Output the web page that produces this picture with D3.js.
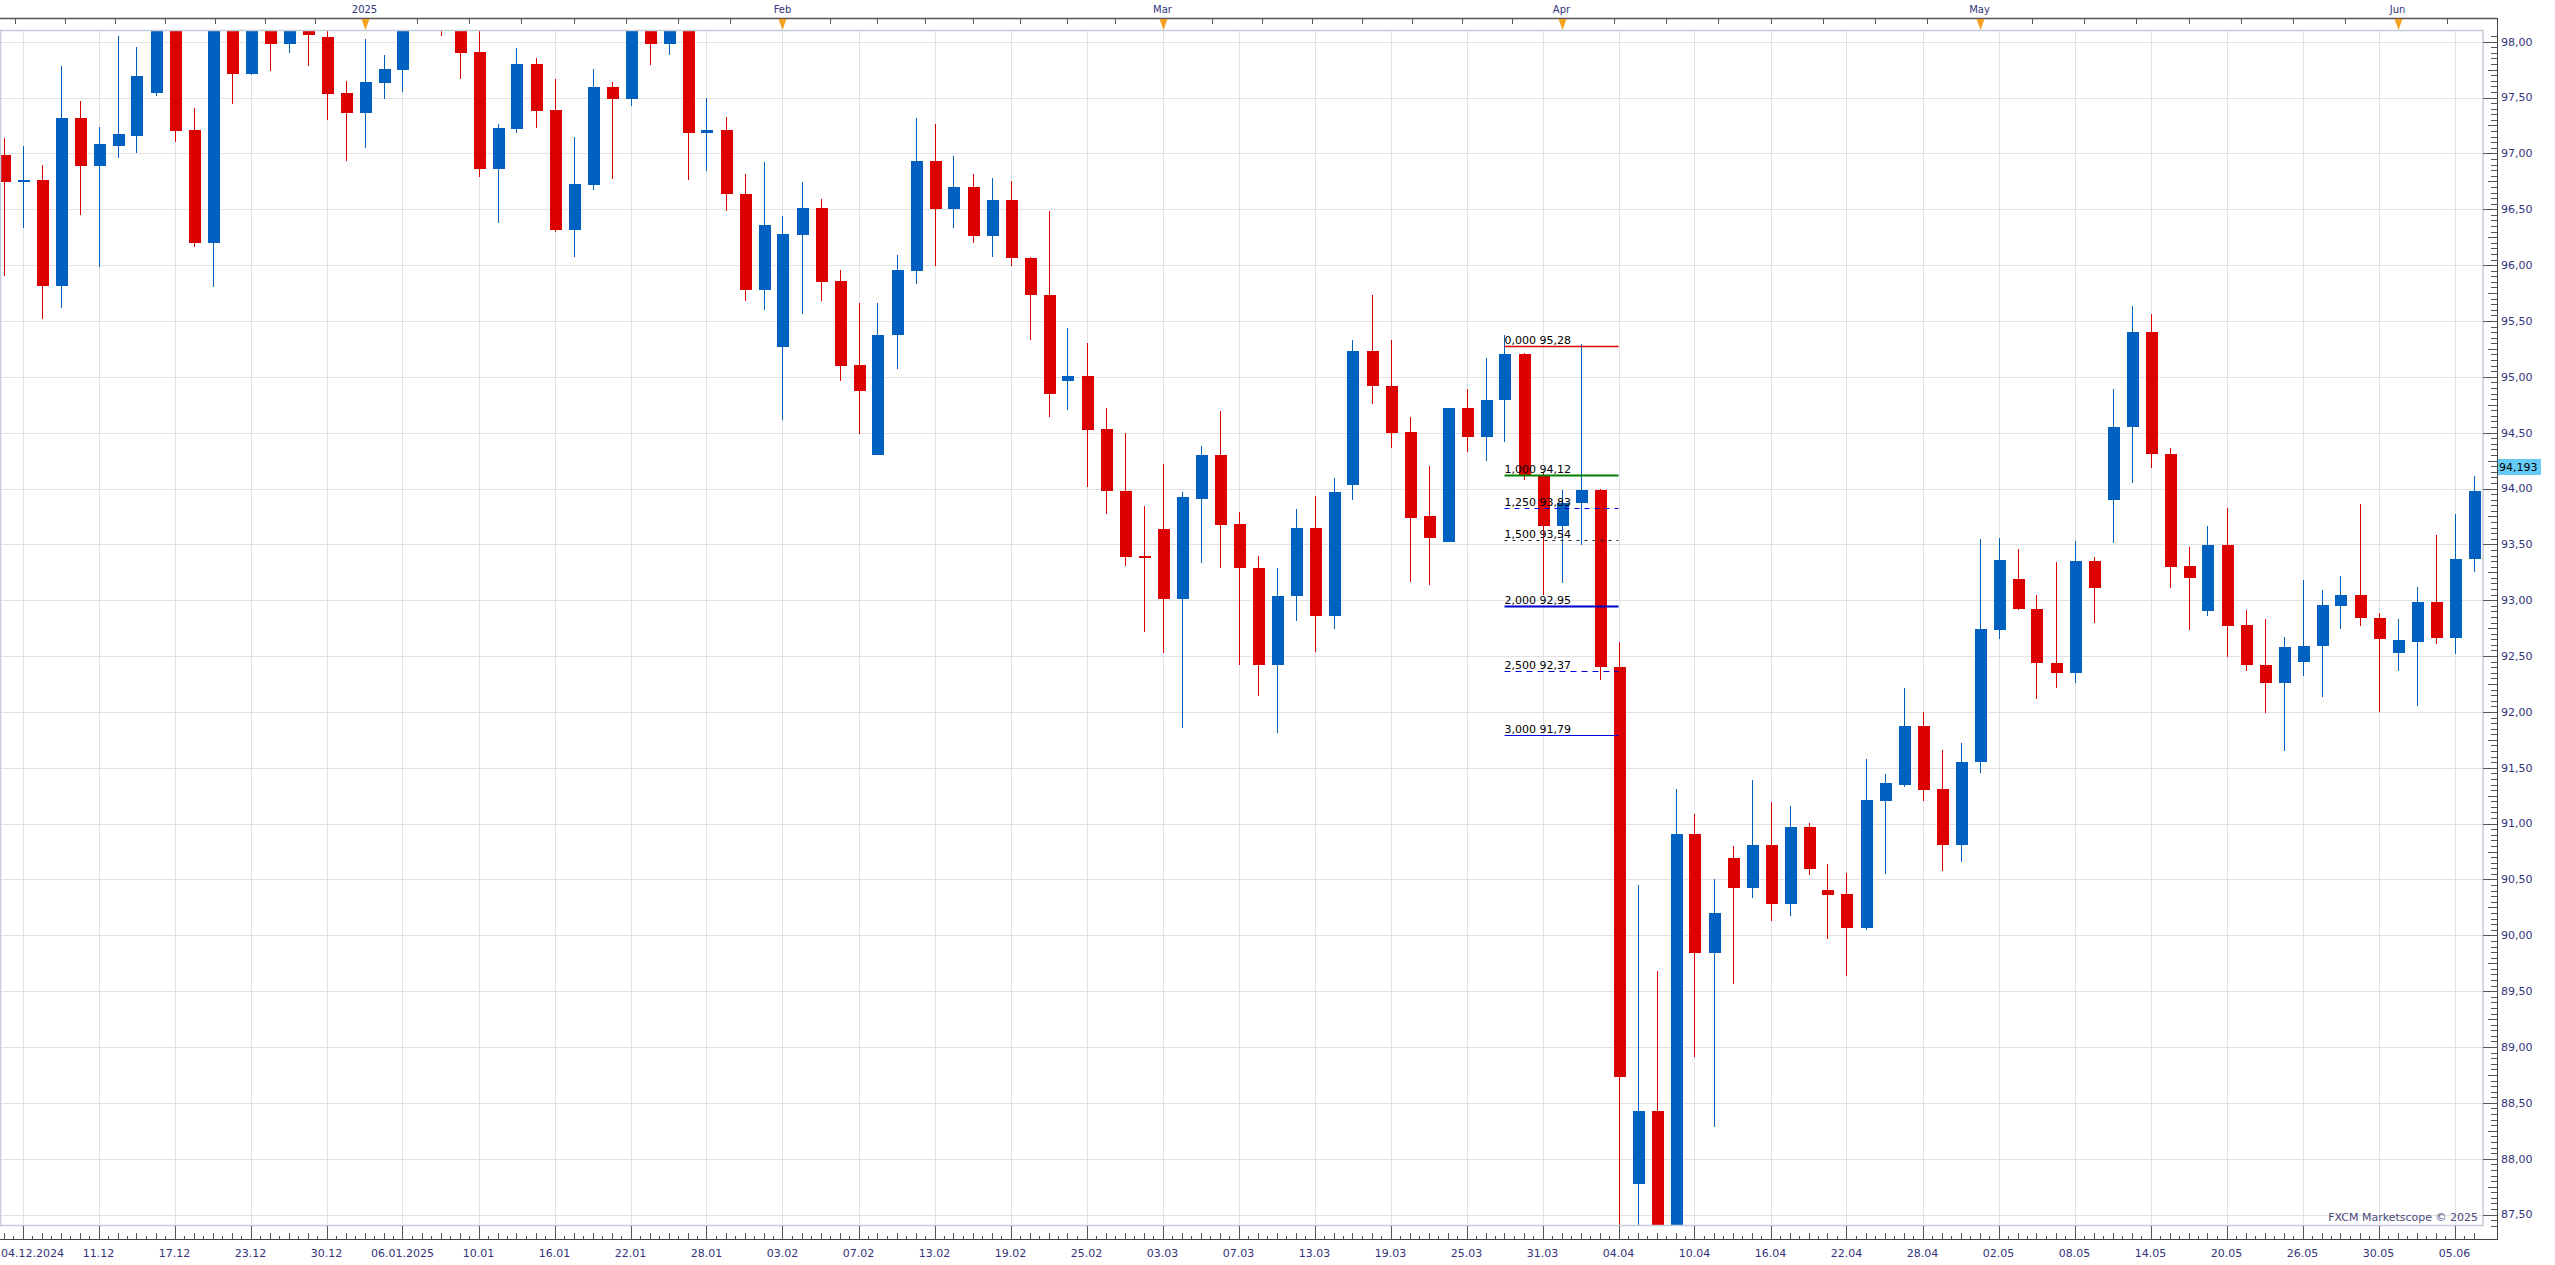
<!DOCTYPE html>
<html>
<head>
<meta charset="utf-8">
<script src="https://cdn.jsdelivr.net/npm/d3@7/dist/d3.min.js"></script>
<style>
html, body { margin: 0; padding: 0; background: #fff; }
svg { display: block; font-family: "DejaVu Sans", sans-serif; }
</style>
</head>
<body>
<svg id="chart" width="2555" height="1265"></svg>
<script>
// daily candles, 04.12.2024 .. 06.06.2025 (index = trading day)
const opens = [
	96.99, 96.74, 96.76, 95.81, 97.32, 96.89, 97.07, 97.16, 97.54, 98.30,
	97.21, 96.20, 98.20, 97.71, 98.15, 97.98, 98.14, 98.04, 97.54, 97.36,
	97.63, 97.75, 98.30, 98.50, 98.30, 97.91, 96.86, 97.22, 97.80, 97.39,
	96.31, 96.72, 97.59, 97.49, 98.20, 97.98, 98.20, 97.18, 97.21, 96.64,
	95.78, 95.27, 96.27, 96.51, 95.86, 95.11, 94.30, 95.37, 95.95, 96.93,
	96.50, 96.70, 96.26, 96.58, 96.06, 95.73, 94.96, 95.01, 94.53, 93.98,
	93.40, 93.64, 93.01, 93.91, 94.30, 93.68, 93.29, 92.42, 93.04, 93.65,
	92.86, 94.03, 95.23, 94.92, 94.51, 93.75, 93.52, 94.72, 94.46, 94.79,
	95.20, 94.12, 93.66, 93.87, 93.99, 92.40, 87.77, 88.43, 87.10, 90.91,
	89.84, 90.69, 90.42, 90.81, 90.28, 90.97, 90.41, 90.37, 90.07, 91.20,
	91.35, 91.87, 91.31, 90.81, 91.55, 92.73, 93.19, 92.92, 92.44, 92.35,
	93.35, 93.90, 94.55, 95.40, 94.31, 93.31, 92.90, 93.49, 92.78, 92.42,
	92.26, 92.45, 92.59, 92.95, 93.05, 92.84, 92.53, 92.63, 92.98, 92.66,
	93.37
];
const highs = [
	97.14, 97.07, 96.90, 97.78, 97.47, 97.24, 98.05, 97.95, 98.45, 98.45,
	97.41, 98.35, 98.30, 98.25, 98.20, 98.20, 98.15, 98.12, 97.65, 98.02,
	97.88, 98.30, 98.70, 98.60, 98.40, 98.15, 97.26, 97.94, 97.85, 97.67,
	97.15, 97.76, 97.64, 98.30, 98.30, 98.25, 98.30, 97.50, 97.33, 96.82,
	96.92, 96.44, 96.74, 96.59, 95.96, 95.66, 95.66, 96.09, 97.32, 97.26,
	96.98, 96.82, 96.78, 96.75, 96.07, 96.48, 95.44, 95.30, 94.72, 94.50,
	93.84, 94.22, 93.97, 94.38, 94.69, 93.79, 93.40, 93.29, 93.82, 93.93,
	94.09, 95.33, 95.73, 95.33, 94.64, 94.20, 94.72, 94.89, 95.17, 95.37,
	95.21, 94.14, 93.99, 95.29, 94.00, 92.63, 90.45, 89.68, 91.31, 91.09,
	90.50, 90.80, 91.39, 91.19, 91.16, 91.01, 90.64, 90.56, 91.58, 91.44,
	92.21, 92.00, 91.66, 91.72, 93.55, 93.56, 93.46, 93.05, 93.34, 93.53,
	93.39, 94.89, 95.63, 95.56, 94.36, 93.48, 93.66, 93.83, 92.91, 92.83,
	92.67, 93.18, 93.09, 93.22, 93.86, 92.89, 92.83, 93.12, 93.58, 93.77,
	94.11
];
const lows = [
	95.90, 96.33, 95.52, 95.62, 96.45, 95.98, 96.96, 97.00, 97.51, 97.10,
	96.16, 95.80, 97.44, 97.70, 97.74, 97.90, 97.78, 97.30, 96.93, 97.05,
	97.49, 97.55, 98.25, 98.05, 97.67, 96.79, 96.38, 97.18, 97.23, 96.30,
	96.07, 96.67, 96.77, 97.42, 97.79, 97.88, 96.76, 96.84, 96.48, 95.68,
	95.60, 94.61, 95.56, 95.68, 94.96, 94.49, 94.30, 95.07, 95.83, 95.99,
	96.33, 96.20, 96.07, 95.99, 95.33, 94.64, 94.70, 94.01, 93.77, 93.31,
	92.72, 92.53, 91.86, 93.33, 93.29, 92.42, 92.14, 91.81, 92.81, 92.54,
	92.74, 93.90, 94.76, 94.36, 93.16, 93.14, 93.52, 94.33, 94.25, 94.42,
	94.08, 93.05, 93.15, 93.49, 92.29, 87.20, 87.10, 86.90, 86.95, 88.91,
	88.28, 89.56, 90.33, 90.13, 90.17, 90.54, 89.97, 89.64, 90.05, 90.55,
	91.33, 91.20, 90.58, 90.66, 91.45, 92.65, 92.91, 92.12, 92.21, 92.26,
	92.80, 93.51, 94.05, 94.18, 93.11, 92.73, 92.86, 92.49, 92.37, 91.99,
	91.65, 92.32, 92.13, 92.74, 92.77, 92.00, 92.37, 92.05, 92.61, 92.52,
	93.25
];
const closes = [
	96.74, 96.76, 95.81, 97.32, 96.89, 97.08, 97.17, 97.69, 98.30, 97.20,
	96.20, 98.20, 97.71, 98.15, 97.98, 98.12, 98.06, 97.53, 97.36, 97.64,
	97.76, 98.15, 98.55, 98.30, 97.90, 96.86, 97.23, 97.80, 97.38, 96.31,
	96.73, 97.59, 97.49, 98.20, 97.98, 98.15, 97.18, 97.21, 96.64, 95.78,
	96.36, 96.28, 96.51, 95.85, 95.10, 94.87, 95.37, 95.96, 96.93, 96.50,
	96.70, 96.26, 96.58, 96.06, 95.73, 94.85, 95.01, 94.52, 93.98, 93.39,
	93.38, 93.01, 93.92, 94.30, 93.67, 93.29, 92.42, 93.04, 93.65, 92.86,
	93.97, 95.23, 94.92, 94.50, 93.74, 93.56, 94.72, 94.46, 94.79, 95.20,
	94.12, 93.66, 93.87, 93.99, 92.40, 88.73, 88.43, 87.10, 90.91, 89.84,
	90.20, 90.42, 90.81, 90.28, 90.97, 90.59, 90.36, 90.07, 91.21, 91.36,
	91.87, 91.30, 90.81, 91.55, 92.74, 93.36, 92.92, 92.44, 92.35, 93.35,
	93.11, 94.55, 95.40, 94.31, 93.30, 93.20, 93.49, 92.77, 92.42, 92.26,
	92.58, 92.59, 92.96, 93.05, 92.84, 92.65, 92.64, 92.98, 92.66, 93.37,
	93.98
];

const dateLabels = ["04.12.2024", "11.12", "17.12", "23.12", "30.12", "06.01.2025", "10.01", "16.01",
	"22.01", "28.01", "03.02", "07.02", "13.02", "19.02", "25.02", "03.03", "07.03", "13.03", "19.03",
	"25.03", "31.03", "04.04", "10.04", "16.04", "22.04", "28.04", "02.05", "08.05", "14.05", "20.05",
	"26.05", "30.05", "05.06"];
const dateLabelIdx = [1, 5, 9, 13, 17, 21, 25, 29, 33, 37, 41, 45, 49, 53, 57, 61, 65, 69, 73, 77,
	81, 85, 89, 93, 97, 101, 105, 109, 113, 117, 121, 125, 129];

const monthLabels = ["", "2025", "Feb", "Mar", "Apr", "May", "Jun", ""];
const monthIdx = [-2, 19, 41, 61, 82, 104, 126, 147];

const priceTicks = [87.5, 88, 88.5, 89, 89.5, 90, 90.5, 91, 91.5, 92, 92.5, 93, 93.5, 94, 94.5,
	95, 95.5, 96, 96.5, 97, 97.5, 98];

const fibLevels = [0, 1, 1.25, 1.5, 2, 2.5, 3];
const fibPrices = [95.28, 94.12, 93.83, 93.54, 92.95, 92.37, 91.79];
const fibColors = ["#e00000", "#008000", "#0000e0", "#222222", "#0000cc", "#0000e0", "#0000e0"];
const fibWidths = [1.5, 2, 1, 1, 2, 1, 1];
const fibDash = [null, null, "5,5", "3,5", null, "6,5", null];
const fibFrom = 79, fibTo = 85;

const lastPrice = 94.193;

const W = 2555, H = 1265;
const plotL = 0, plotR = 2483, plotT = 31, plotB = 1226;
const axisX = 2497, axisY = 1239;
const bodyW = 12;
const upColor = "#0061c1", downColor = "#dd0000";
const labelColor = "#33337a";

const fmt = (v, d) => v.toFixed(d).replace(".", ",");

const svg = d3.select("#chart");

const x = d3.scaleLinear().domain([-0.5, 130.5]).range([-6, plotR]);
const y = d3.scaleLinear().domain([87.5, 98]).range([1214.6, 41.7]);

svg.append("defs").append("clipPath").attr("id", "plotclip")
	.append("rect").attr("x", plotL).attr("y", plotT)
	.attr("width", plotR - plotL).attr("height", plotB - plotT);

// grid
const grid = svg.append("g").attr("shape-rendering", "crispEdges");
grid.selectAll("line.h").data(priceTicks).enter().append("line")
	.attr("x1", plotL).attr("x2", plotR)
	.attr("y1", (d) => Math.round(y(d)) + 0.5).attr("y2", (d) => Math.round(y(d)) + 0.5)
	.attr("stroke", "#e2e2e2");
grid.selectAll("line.v").data(dateLabelIdx).enter().append("line")
	.attr("y1", plotT).attr("y2", plotB)
	.attr("x1", (d) => Math.round(x(d)) + 0.5).attr("x2", (d) => Math.round(x(d)) + 0.5)
	.attr("stroke", "#e2e2e2");

// candles
const candles = d3.range(opens.length).map((i) => ({
	i: i, o: opens[i], h: highs[i], l: lows[i], c: closes[i]
}));
const cg = svg.append("g").attr("clip-path", "url(#plotclip)").attr("shape-rendering", "crispEdges");
const cs = cg.selectAll("g.candle").data(candles).enter().append("g")
	.attr("class", "candle")
	.attr("fill", (d) => (d.c >= d.o ? upColor : downColor));
cs.append("rect")
	.attr("x", (d) => Math.round(x(d.i)))
	.attr("width", 1)
	.attr("y", (d) => y(d.h))
	.attr("height", (d) => y(d.l) - y(d.h));
cs.append("rect")
	.attr("x", (d) => Math.round(x(d.i)) - bodyW / 2 + 0.5)
	.attr("width", bodyW)
	.attr("y", (d) => y(Math.max(d.o, d.c)))
	.attr("height", (d) => Math.max(2, Math.abs(y(d.o) - y(d.c))));

// fibonacci extension
const fg = svg.append("g").attr("clip-path", "url(#plotclip)");
fibLevels.forEach((lv, k) => {
	const yy = Math.round(y(fibPrices[k])) + 0.5;
	fg.append("line")
		.attr("x1", x(fibFrom)).attr("x2", x(fibTo))
		.attr("y1", yy).attr("y2", yy)
		.attr("stroke", fibColors[k])
		.attr("stroke-width", fibWidths[k])
		.attr("stroke-dasharray", fibDash[k]);
	fg.append("text")
		.attr("x", x(fibFrom))
		.attr("y", yy - 3)
		.attr("font-size", 11)
		.attr("fill", "#000")
		.text(fmt(lv, 3) + " " + fmt(fibPrices[k], 2));
});

// plot frame
svg.append("rect")
	.attr("x", plotL + 0.5).attr("y", plotT - 0.5)
	.attr("width", plotR - plotL - 0.5).attr("height", plotB - plotT)
	.attr("fill", "none").attr("stroke", "#c3ccd8").attr("stroke-width", 1.5);

svg.append("text")
	.attr("x", plotR - 5).attr("y", plotB - 5)
	.attr("text-anchor", "end").attr("font-size", 11)
	.attr("fill", "#4a4a7a")
	.text("FXCM Marketscope \u00a9 2025");

// right price axis
const ax = svg.append("g").attr("shape-rendering", "crispEdges");
ax.append("line").attr("x1", axisX + 0.5).attr("x2", axisX + 0.5)
	.attr("y1", 18).attr("y2", axisY + 0.5).attr("stroke", "#444");
const minor = d3.ticks(87.4, 98.09, 214);
ax.selectAll("line.yt").data(minor).enter().append("line")
	.attr("x1", (d) => {
		const r = Math.round(d * 100);
		return axisX - (r % 50 === 0 ? 14 : r % 25 === 0 ? 9 : 6);
	})
	.attr("x2", axisX)
	.attr("y1", (d) => Math.round(y(d)) + 0.5).attr("y2", (d) => Math.round(y(d)) + 0.5)
	.attr("stroke", "#555");
svg.selectAll("text.ylab").data(priceTicks).enter().append("text")
	.attr("x", axisX + 4).attr("y", (d) => y(d))
	.attr("dy", "0.35em").attr("font-size", 11)
	.attr("fill", labelColor)
	.text((d) => fmt(d, 2));

svg.append("rect")
	.attr("x", axisX + 1).attr("y", Math.round(y(lastPrice)) - 8)
	.attr("width", 43).attr("height", 16)
	.attr("fill", "#66ccf5");
svg.append("text")
	.attr("x", axisX + 2).attr("y", y(lastPrice))
	.attr("dy", "0.35em").attr("font-size", 11).attr("fill", "#000")
	.text(fmt(lastPrice, 3));

// bottom date axis
const bx = svg.append("g").attr("shape-rendering", "crispEdges");
bx.append("line").attr("x1", 0).attr("x2", axisX)
	.attr("y1", axisY + 0.5).attr("y2", axisY + 0.5).attr("stroke", "#444");
const halfSteps = d3.range(0, 261).map((k) => k / 2);
bx.selectAll("line.xt").data(halfSteps).enter().append("line")
	.attr("x1", (d) => Math.round(x(d)) + 0.5).attr("x2", (d) => Math.round(x(d)) + 0.5)
	.attr("y1", (d) => axisY - (Number.isInteger(d) ? ((d - 1) % 4 === 0 ? 13 : 6) : 3))
	.attr("y2", axisY)
	.attr("stroke", "#555");
svg.selectAll("text.xlab").data(dateLabelIdx).enter().append("text")
	.attr("x", (d, k) => (k === 0 ? 1 : x(d)))
	.attr("text-anchor", (d, k) => (k === 0 ? "start" : "middle"))
	.attr("y", 1257).attr("font-size", 11)
	.attr("fill", labelColor)
	.text((d, k) => dateLabels[k]);

// top month axis
const tx = svg.append("g");
tx.append("line").attr("x1", 0).attr("x2", axisX)
	.attr("y1", 18.5).attr("y2", 18.5).attr("stroke", "#555").attr("stroke-width", 1.5);
const subTicks = [];
for (let m = 0; m < monthIdx.length - 1; m++) {
	for (let s = 1; s < 8; s++) {
		subTicks.push(monthIdx[m] + ((monthIdx[m + 1] - monthIdx[m]) * s) / 8);
	}
}
tx.selectAll("line.mt").data(subTicks.filter((d) => x(d) > 0 && x(d) < axisX)).enter().append("line")
	.attr("x1", (d) => Math.round(x(d)) + 0.5).attr("x2", (d) => Math.round(x(d)) + 0.5)
	.attr("y1", 18).attr("y2", 24)
	.attr("stroke", "#555").attr("shape-rendering", "crispEdges");
const months = monthIdx.map((d, k) => ({ i: d, label: monthLabels[k] })).filter((d) => d.label);
tx.selectAll("path.mk").data(months).enter().append("path")
	.attr("d", (d) => {
		const cx = Math.round(x(d.i)) + 0.5;
		return "M" + (cx - 4) + ",19 L" + (cx + 4) + ",19 L" + cx + ",30 Z";
	})
	.attr("fill", "#f5a01e");
tx.selectAll("text.ml").data(months).enter().append("text")
	.attr("x", (d) => x(d.i)).attr("y", 13)
	.attr("text-anchor", "middle").attr("font-size", 10)
	.attr("fill", labelColor)
	.text((d) => d.label);
</script>
</body>
</html>
